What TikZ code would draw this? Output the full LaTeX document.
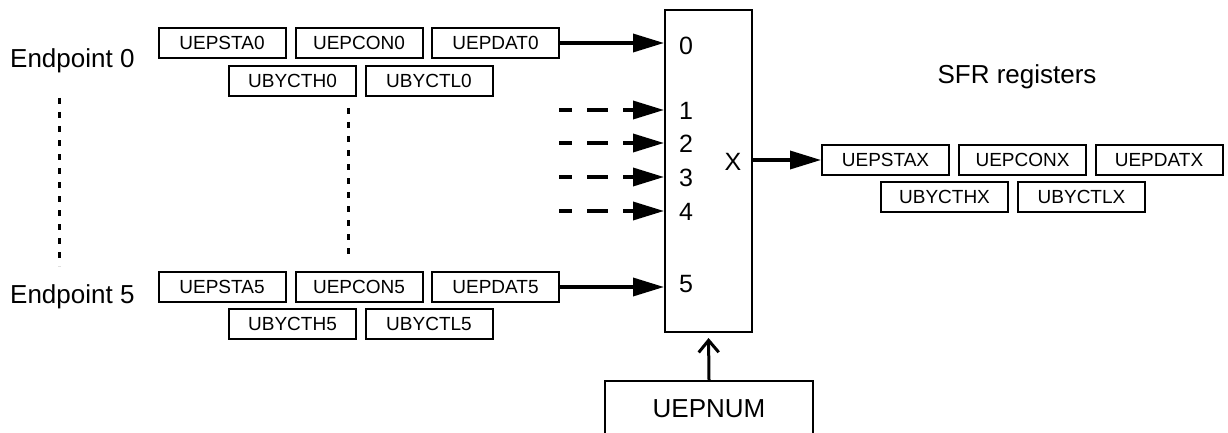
\documentclass[tikz,border=0pt]{standalone}
\usepackage{fontspec}
\setmainfont{Liberation Sans}
\usetikzlibrary{arrows.meta}
\tikzset{
reg/.style={draw,line width=2pt,minimum width=127pt,minimum height=30pt,inner sep=0pt,font=\fontsize{19}{19}\selectfont},
big/.style={inner sep=0pt,anchor=base,font=\fontsize{26}{26}\selectfont},
pin/.style={inner sep=0pt,anchor=base,font=\fontsize{25}{25}\selectfont},
feed/.style={line width=3.5pt,-{Triangle[length=31pt,width=18pt]}},
dots/.style={line width=3pt,dash pattern=on 6pt off 8pt}
}
\begin{document}
\begin{tikzpicture}[x=1pt,y=-1pt]
\useasboundingbox (0,0) rectangle (1228,433);
\clip (0,0) rectangle (1228,433);
\node[big,anchor=base west] (ep0) at (10,68) {Endpoint 0};
\node[big,anchor=base west] (ep5) at (10,303) {Endpoint 5};
\node[big] (sfr) at (1017,84) {SFR registers};
\foreach \t/\x in {UEPSTA/222,UEPCON/359,UEPDAT/495.5}{
\node[reg] (\t0) at (\x,43) {\t0};
\node[reg] (\t5) at (\x,287) {\t5};
}
\foreach \t/\x in {UBYCTH/292.5,UBYCTL/429}{
\node[reg] (\t0) at (\x,81) {\t0};
\node[reg] (\t5) at (\x,324) {\t5};
}
\foreach \t/\x/\y in {UEPSTA/885.5/160,UEPCON/1022.5/160,UEPDAT/1159/160,UBYCTH/944.5/197,UBYCTL/1081.5/197}{
\node[reg] (\t X) at (\x,\y) {\t X};
}
\draw[dots] (59,98) -- (59,266);
\draw[dots] (348,108) -- (348,258);
\node[draw,line width=2pt,minimum width=87pt,minimum height=322pt] (mux) at (708.5,171) {};
\foreach \i/\y in {0/55,1/120,2/153,3/186,4/220,5/292}{
\node[pin] (pin\i) at (686,\y) {\i};
}
\node[pin] (pinx) at (733,170) {X};
\node[draw,line width=2pt,minimum width=208pt,minimum height=56pt,inner sep=0pt,font=\fontsize{26}{26}\selectfont] (uepnum) at (709,409) {UEPNUM};
\draw[feed] (UEPDAT0.east) -- (UEPDAT0.east -| mux.west);
\draw[feed] (UEPDAT5.east) -- (UEPDAT5.east -| mux.west);
\foreach \i/\y in {1/110,2/143,3/177,4/211}{
\coordinate (in\i) at (559,\y);
\draw[feed,dash pattern=on 21pt off 15pt,dash phase=8pt] (in\i) -- (in\i -| mux.west);
}
\draw[feed] (mux.east |- UEPSTAX) -- (UEPSTAX.west);
\draw[line width=3pt,shorten >=5pt,-{Straight Barb[length=12pt,width=20pt]}] (uepnum.north) -- (mux.south);
\end{tikzpicture}
\end{document}
